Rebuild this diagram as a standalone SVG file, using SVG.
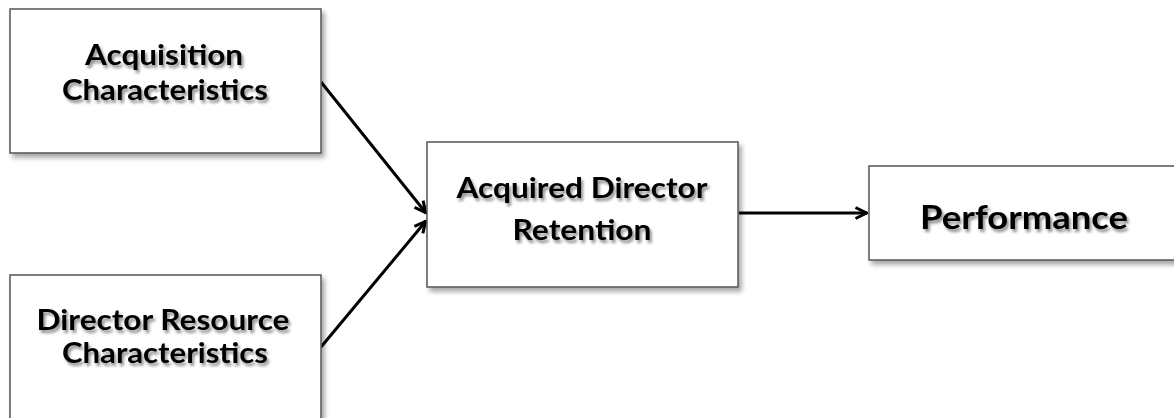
<svg xmlns="http://www.w3.org/2000/svg" width="1174" height="418" viewBox="0 0 1174 418">
<style>
.box{fill:#fff;stroke:#555;stroke-width:1.5}
.lbl{font-family:Lato,"Open Sans","Liberation Sans",sans-serif;font-weight:bold;font-size:28px;fill:#000;text-anchor:middle}
.big{font-size:33px}
.edge{stroke:#000;stroke-width:3;fill:none;marker-end:url(#arr)}
</style>
<defs>
<filter id="sh" x="-10%" y="-10%" width="130%" height="140%">
<feGaussianBlur in="SourceAlpha" stdDeviation="2.5"/>
<feOffset dx="3" dy="4" result="b"/>
<feComponentTransfer><feFuncA type="linear" slope="0.35"/></feComponentTransfer>
<feMerge><feMergeNode/><feMergeNode in="SourceGraphic"/></feMerge>
</filter>
<filter id="tsh" x="-10%" y="-20%" width="130%" height="160%">
<feGaussianBlur in="SourceAlpha" stdDeviation="1.5"/>
<feOffset dx="2" dy="3" result="b"/>
<feComponentTransfer><feFuncA type="linear" slope="0.45"/></feComponentTransfer>
<feMerge><feMergeNode/><feMergeNode in="SourceGraphic"/></feMerge>
</filter>
<marker id="arr" viewBox="0 0 14 14" refX="13" refY="7" markerWidth="14" markerHeight="14" markerUnits="userSpaceOnUse" orient="auto">
<path d="M1.5,1.5 L12.5,7 L1.5,12.5" fill="none" stroke="#000" stroke-width="3"/>
</marker>
</defs>
<g id="connectors">
<line class="edge" x1="321" y1="82" x2="426" y2="213"/>
<line class="edge" x1="321" y1="347" x2="426" y2="221"/>
<line class="edge" x1="739" y1="213" x2="867" y2="213"/>
</g>
<g id="acquisition">
<rect class="box" x="10" y="9" width="311" height="144" filter="url(#sh)"/>
<g filter="url(#tsh)">
<text class="lbl" x="164" y="65" textLength="158" lengthAdjust="spacingAndGlyphs">Acquisition</text>
<text class="lbl" x="165" y="100" textLength="206" lengthAdjust="spacingAndGlyphs">Characteristics</text>
</g>
</g>
<g id="director">
<rect class="box" x="10" y="275" width="311" height="160" filter="url(#sh)"/>
<g filter="url(#tsh)">
<text class="lbl" x="163" y="330" textLength="253" lengthAdjust="spacingAndGlyphs">Director Resource</text>
<text class="lbl" x="165" y="363" textLength="206" lengthAdjust="spacingAndGlyphs">Characteristics</text>
</g>
</g>
<g id="retention">
<rect class="box" x="427" y="142" width="311" height="145" filter="url(#sh)"/>
<g filter="url(#tsh)">
<text class="lbl" x="582" y="198" textLength="251" lengthAdjust="spacingAndGlyphs">Acquired Director</text>
<text class="lbl" x="582" y="240" textLength="139" lengthAdjust="spacingAndGlyphs">Retention</text>
</g>
</g>
<g id="performance">
<rect class="box" x="869" y="166" width="320" height="94" filter="url(#sh)"/>
<g filter="url(#tsh)">
<text class="lbl big" x="1024" y="229" textLength="208" lengthAdjust="spacingAndGlyphs">Performance</text>
</g>
</g>
</svg>
